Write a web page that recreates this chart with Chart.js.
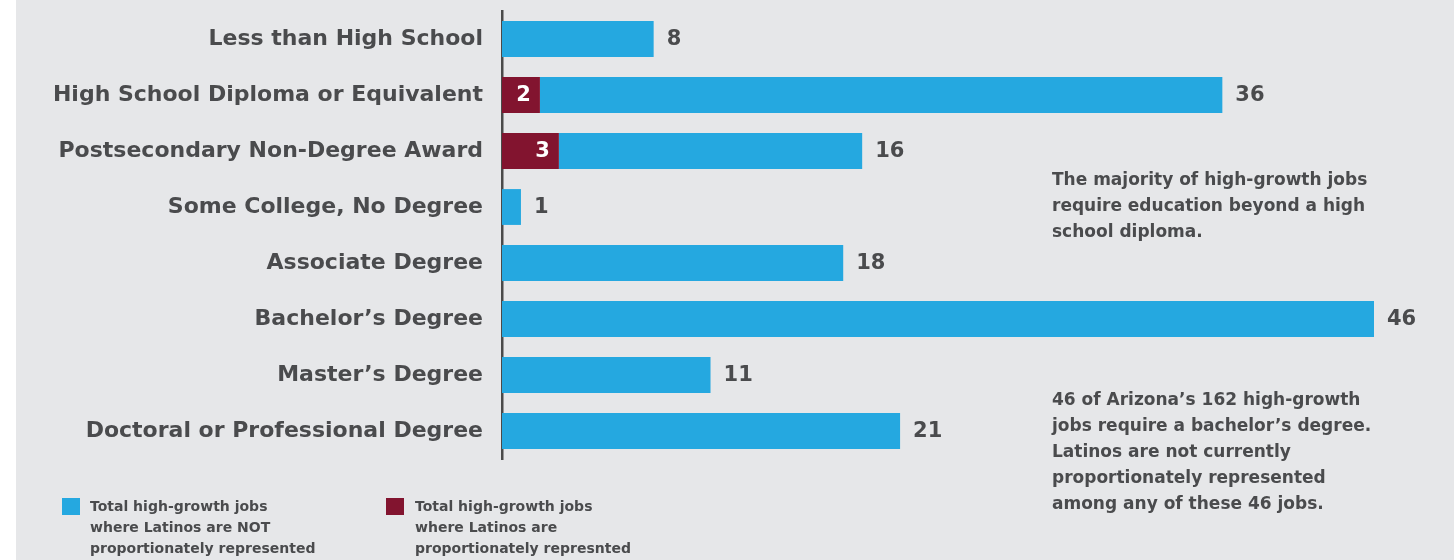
<!DOCTYPE html>
<html>
<head>
<meta charset="utf-8">
<script src="https://cdn.jsdelivr.net/npm/chart.js@4/dist/chart.umd.min.js"></script>
<style>
    html, body { margin: 0; padding: 0; background: #fff; }
    #wrap { position: absolute; left: 16px; top: 0; width: 1438px; height: 560px; background: #e6e7e9; overflow: hidden; }
    #chartBox { position: absolute; left: -16px; top: 0; width: 1454px; height: 560px; }
    .note { position: absolute; font-family: "DejaVu Sans", sans-serif; font-weight: 700; color: #4a4b4d; font-size: 17px; line-height: 26px; white-space: nowrap; }
    .legend { position: absolute; font-family: "DejaVu Sans", sans-serif; font-weight: 700; color: #4a4b4d; font-size: 14px; line-height: 21px; white-space: nowrap; }
    .sw { position: absolute; width: 18px; height: 17px; }
</style>
</head>
<body>
<div id="wrap">
    <div id="chartBox"><canvas id="canvas"></canvas></div>
</div>
<script>
var categories = [
    "Less than High School",
    "High School Diploma or Equivalent",
    "Postsecondary Non-Degree Award",
    "Some College, No Degree",
    "Associate Degree",
    "Bachelor\u2019s Degree",
    "Master\u2019s Degree",
    "Doctoral or Professional Degree"
];
// jobs where Latinos are proportionately represented
var representedJobs = [0, 2, 3, 0, 0, 0, 0, 0];
// jobs where Latinos are NOT proportionately represented
var notRepresentedJobs = [8, 36, 16, 1, 18, 46, 11, 21];
var xMax = 46;

var noteTop = "The majority of high-growth jobs<br>require education beyond a high<br>school diploma.";
var noteBottom = "46 of Arizona\u2019s 162 high-growth<br>jobs require a bachelor\u2019s degree.<br>Latinos are not currently<br>proportionately represented<br>among any of these 46 jobs.";

var blue = "#25a8e0";
var maroon = "#82142f";
var textColor = "#4a4b4d";
var fontFamily = "'DejaVu Sans', sans-serif";

// value labels: white inside maroon, dark after blue
var valueLabels = {
    id: 'valueLabels',
    afterDatasetsDraw: function (chart) {
        var ctx = chart.ctx;
        ctx.save();
        ctx.font = "bold 21px " + fontFamily;
        ctx.textBaseline = "middle";
        chart.data.datasets.forEach(function (ds, i) {
            var meta = chart.getDatasetMeta(i);
            meta.data.forEach(function (bar, j) {
                var v = ds.data[j];
                if (!v) return;
                if (i === 0) {
                    ctx.fillStyle = "#ffffff";
                    ctx.textAlign = "right";
                    ctx.fillText(v, bar.x - 9, bar.y + 1);
                } else {
                    ctx.fillStyle = textColor;
                    ctx.textAlign = "left";
                    ctx.fillText(v, bar.x + 13, bar.y + 1);
                }
            });
        });
        ctx.restore();
    }
};

var data = {
    labels: categories,
    datasets: [
        {
            label: "Total high-growth jobs where Latinos are proportionately represnted",
            backgroundColor: maroon,
            data: representedJobs
        },
        {
            label: "Total high-growth jobs where Latinos are NOT proportionately represented",
            backgroundColor: blue,
            data: notRepresentedJobs
        }
    ]
};

var ctx = document.getElementById("canvas").getContext("2d");

var myBarChart = new Chart(ctx, {
    type: 'bar',
    data: data,
    plugins: [valueLabels],
    options: {
        indexAxis: 'y',
        responsive: true,
        maintainAspectRatio: false,
        animation: false,
        categoryPercentage: 1,
        barPercentage: 0.64,
        layout: { autoPadding: false, padding: { top: 11, right: 80, bottom: 101, left: 0 } },
        plugins: {
            legend: { display: false },
            tooltip: { enabled: false }
        },
        scales: {
            x: {
                stacked: true,
                display: false,
                min: 0,
                max: xMax
            },
            y: {
                stacked: true,
                afterFit: function (scale) {
                    scale.width = 502;
                    scale.paddingTop = 0;
                    scale.paddingBottom = 0;
                },
                grid: { display: false, drawTicks: false },
                border: { display: true, color: "#4a4a4a", width: 2.5 },
                ticks: {
                    padding: 19,
                    color: textColor,
                    font: { family: fontFamily, size: 22, weight: 'bold' }
                }
            }
        }
    }
});

function addDiv(cls, left, top, html, bg) {
    var d = document.createElement('div');
    d.className = cls;
    d.style.left = (left - 16) + 'px';
    d.style.top = top + 'px';
    if (html) d.innerHTML = html;
    if (bg) d.style.background = bg;
    document.getElementById('wrap').appendChild(d);
}
addDiv('note', 1052, 166, noteTop);
addDiv('note', 1052, 386, noteBottom);
addDiv('sw', 62, 498, '', blue);
addDiv('legend', 90, 496, "Total high-growth jobs<br>where Latinos are NOT<br>proportionately represented");
addDiv('sw', 386, 498, '', maroon);
addDiv('legend', 415, 496, "Total high-growth jobs<br>where Latinos are<br>proportionately represnted");
</script>
</body>
</html>
